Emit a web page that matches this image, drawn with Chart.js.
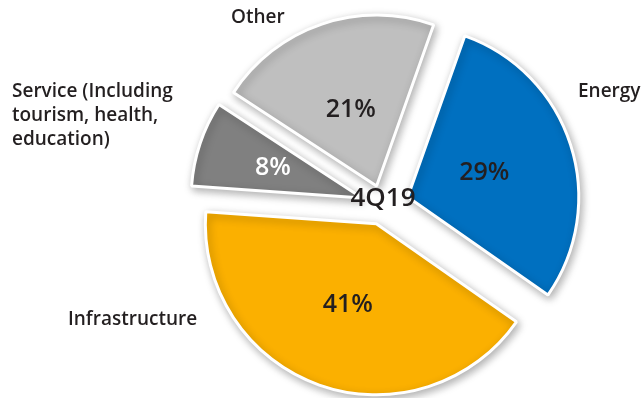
<!doctype html>
<html>
<head>
    <title>Sector breakdown 4Q19</title>
    <script src="https://cdn.jsdelivr.net/npm/chart.js"></script>
    <style>
        html, body { margin: 0; padding: 0; background: #fff; }
        #wrap { width: 642px; height: 398px; }
    </style>
</head>
<body>
    <div id="wrap"><canvas id="grafico"></canvas></div>

    <script>
        // data
        var categorias = ['Energy', 'Infrastructure', 'Service (Including tourism, health, education)', 'Other'];
        var participacao = [29, 41, 8, 21];
        var rotulosCategoria = [['Energy'], ['Infrastructure'], ['Service (Including', 'tourism, health,', 'education)'], ['Other']];
        var periodo = '4Q19';

        // styling
        var cores = ['#0070c0', '#fbb000', '#808080', '#bfbfbf'];
        var corTextoPct = ['#231f20', '#231f20', '#ffffff', '#231f20'];
        var explosao = [26, 20, 22, 20];   // how far each slice is pulled out (px)
        var fatorPct = [0.47, 0.5, 0.55, 0.47];
        // where the outer category labels sit (x, y of first line, left aligned)
        var posRotulos = [[578, 92], [68, 320], [12, 92], [231, 18]];

        // pulls every slice out along its middle angle, Chart.js still draws the arc itself
        var explodir = {
            id: 'explodir',
            afterDatasetsUpdate(chart) {
                chart.getDatasetMeta(0).data.forEach(function (arco, i) {
                    if (arco._explodido) return;
                    var desenhar = arco.draw;
                    arco.draw = function (ctx, area) {
                        var meio = (this.startAngle + this.endAngle) / 2;
                        ctx.save();
                        ctx.translate(Math.cos(meio) * explosao[i], Math.sin(meio) * explosao[i]);
                        desenhar.call(this, ctx, area);
                        ctx.restore();
                    };
                    arco._explodido = true;
                });
            }
        };

        var sombra = {
            id: 'sombra',
            beforeDatasetsDraw(chart) {
                var ctx = chart.ctx;
                ctx.save();
                ctx.shadowColor = 'rgba(0,0,0,0.3)';
                ctx.shadowBlur = 8;
                ctx.shadowOffsetX = 2;
                ctx.shadowOffsetY = 3;
            },
            afterDatasetsDraw(chart) {
                chart.ctx.restore();
            }
        };

        var rotulos = {
            id: 'rotulos',
            afterDraw(chart) {
                var ctx = chart.ctx;
                var meta = chart.getDatasetMeta(0);
                ctx.save();
                ctx.textBaseline = 'middle';

                // percentages inside the slices
                meta.data.forEach(function (arco, i) {
                    var p = arco.getProps(['x', 'y', 'startAngle', 'endAngle', 'outerRadius']);
                    var meio = (p.startAngle + p.endAngle) / 2;
                    var r = explosao[i] + p.outerRadius * fatorPct[i];
                    ctx.font = '600 25px "Open Sans"';
                    ctx.fillStyle = corTextoPct[i];
                    ctx.textAlign = 'center';
                    ctx.fillText(participacao[i] + '%', p.x + Math.cos(meio) * r, p.y + Math.sin(meio) * r);
                });

                // category names outside
                ctx.font = '600 19px "Open Sans"';
                ctx.fillStyle = '#231f20';
                ctx.textAlign = 'left';
                rotulosCategoria.forEach(function (linhas, i) {
                    linhas.forEach(function (linha, j) {
                        ctx.fillText(linha, posRotulos[i][0], posRotulos[i][1] + j * 24);
                    });
                });

                // period in the middle
                var c = meta.data[0];
                ctx.font = '600 26px "Open Sans"';
                ctx.textAlign = 'center';
                ctx.fillText(periodo, c.x, c.y - 6);
                ctx.restore();
            }
        };

        var grafico = new Chart(document.getElementById('grafico'), {
            type: 'pie',
            data: {
                labels: categorias,
                datasets: [{
                    data: participacao,
                    backgroundColor: cores,
                    borderColor: '#ffffff',
                    borderWidth: 3,
                    clip: false
                }]
            },
            options: {
                responsive: true,
                maintainAspectRatio: false,
                animation: false,
                rotation: 19.5,
                radius: 171,
                layout: { padding: { left: 124, top: 12, right: 0, bottom: 0 } },
                plugins: {
                    legend: { display: false },
                    tooltip: { enabled: false }
                }
            },
            plugins: [explodir, sombra, rotulos]
        });
    </script>
</body>
</html>
